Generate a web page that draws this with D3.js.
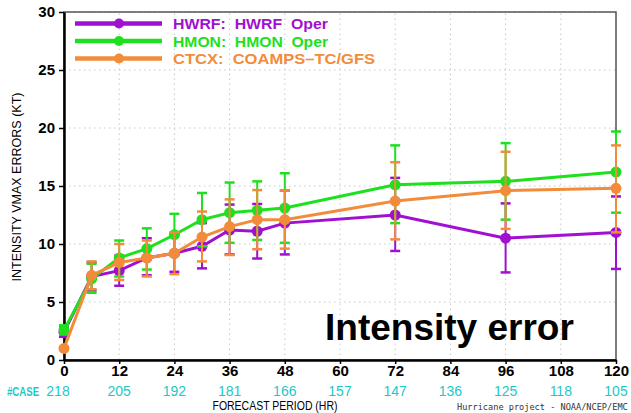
<!DOCTYPE html>
<html>
<head>
<meta charset="utf-8">
<script src="https://cdn.jsdelivr.net/npm/d3@7"></script>
<style>
  body { margin: 0; background: #fff; }
  svg { display: block; }
</style>
</head>
<body>
<div id="vis"></div>
<script>
// Datos
const horas = [0, 6, 12, 18, 24, 30, 36, 42, 48, 72, 96, 120];

const hwrf = [2.4, 7.2, 7.7, 8.8, 9.2, 9.8, 11.2, 11.1, 11.8, 12.5, 10.5, 11.0];
const hwrf_lo = [2.0, 6.0, 6.4, 7.3, 7.6, 7.9, 9.1, 8.75, 9.1, 9.4, 7.55, 7.85];
const hwrf_hi = [2.9, 8.4, 9.0, 10.5, 10.8, 11.8, 13.4, 13.45, 14.6, 15.7, 13.5, 14.1];

const hmon = [2.6, 7.0, 8.8, 9.6, 10.8, 12.1, 12.7, 12.9, 13.1, 15.1, 15.4, 16.2];
const hmon_lo = [2.2, 5.8, 7.2, 7.8, 9.0, 9.8, 10.1, 10.35, 10.1, 11.8, 12.1, 12.7];
const hmon_hi = [3.0, 8.3, 10.3, 11.35, 12.6, 14.4, 15.3, 15.4, 16.1, 18.5, 18.7, 19.7];

const ctcx = [1.0, 7.3, 8.4, 8.8, 9.2, 10.6, 11.5, 12.1, 12.1, 13.7, 14.6, 14.8];
const ctcx_lo = [0.9, 6.1, 6.9, 7.2, 7.4, 8.5, 9.05, 9.55, 9.6, 10.4, 11.3, 11.0];
const ctcx_hi = [1.1, 8.5, 10.0, 10.3, 11.0, 12.8, 13.85, 14.65, 14.6, 17.05, 17.95, 18.5];

const xticks = [0, 12, 24, 36, 48, 60, 72, 84, 96, 108, 120];
const yticks = [0, 5, 10, 15, 20, 25, 30];
const casos = [218, 205, 192, 181, 166, 157, 147, 136, 125, 118, 105];

const nombres = ["HWRF:  HWRF  Oper", "HMON:  HMON  Oper", "CTCX:  COAMPS\u2013TC/GFS"];
const colores = ["#a010d0", "#1ee01e", "#f28c3a"];

const WIDTH = 631;
const HEIGHT = 413;
const margins = [64, 15, 12, 53]; // izquierda, derecha, arriba, abajo

const SVG = d3.select("#vis").append("svg")
  .attr("width", WIDTH)
  .attr("height", HEIGHT);

const x = d3.scaleLinear().domain([0, 120]).range([margins[0], WIDTH - margins[1]]);
const y = d3.scaleLinear().domain([0, 30]).range([HEIGHT - margins[3], margins[2]]);

const series = [
  { name: nombres[0], color: colores[0], v: hwrf, lo: hwrf_lo, hi: hwrf_hi },
  { name: nombres[1], color: colores[1], v: hmon, lo: hmon_lo, hi: hmon_hi },
  { name: nombres[2], color: colores[2], v: ctcx, lo: ctcx_lo, hi: ctcx_hi },
];

// grilla punteada
const grid = SVG.append("g");
grid.selectAll(".gx").data(xticks.slice(1)).join("line")
  .attr("x1", d => x(d)).attr("x2", d => x(d))
  .attr("y1", y(0)).attr("y2", y(30))
  .attr("stroke", "#c8c8c8").attr("stroke-dasharray", "1.5,3.5");
grid.selectAll(".gy").data(yticks.slice(1)).join("line")
  .attr("x1", x(0)).attr("x2", x(120))
  .attr("y1", d => y(d)).attr("y2", d => y(d))
  .attr("stroke", "#c8c8c8").attr("stroke-dasharray", "1.5,3.5");

// marco
SVG.append("rect")
  .attr("x", x(0)).attr("y", y(30))
  .attr("width", x(120) - x(0)).attr("height", y(0) - y(30))
  .attr("fill", "none").attr("stroke", "#555").attr("stroke-width", 1.5);

// ejes
const ejeY = SVG.append("g")
  .attr("transform", `translate(${x(0)},0)`)
  .call(d3.axisLeft(y).tickValues(yticks).tickSize(5).tickSizeOuter(0));
const ejeX = SVG.append("g")
  .attr("transform", `translate(0,${y(0)})`)
  .call(d3.axisBottom(x).tickValues(xticks).tickSize(4).tickSizeOuter(0));

[ejeY, ejeX].forEach(g => {
  g.select(".domain").attr("stroke", "#000").attr("stroke-width", 2.5);
  g.selectAll(".tick line").attr("stroke", "#000").attr("stroke-width", 1.5);
  g.selectAll("text")
    .attr("font-family", "Liberation Sans, Arial, sans-serif")
    .attr("font-weight", "bold")
    .attr("font-size", 15)
    .attr("fill", "#000");
});
ejeY.selectAll("text").attr("dx", -1);
ejeX.selectAll("text").attr("dy", "0.6em");

// barras de error, lineas y puntos
series.forEach(s => {
  const g = SVG.append("g");
  const pts = horas.map((h, i) => ({ h: h, v: s.v[i], lo: s.lo[i], hi: s.hi[i] }));
  g.selectAll(".eb").data(pts).join("line")
    .attr("x1", d => x(d.h)).attr("x2", d => x(d.h))
    .attr("y1", d => y(d.lo)).attr("y2", d => y(d.hi))
    .attr("stroke", s.color).attr("stroke-width", 2);
  ["lo", "hi"].forEach(k => {
    g.selectAll(".cap" + k).data(pts).join("line")
      .attr("x1", d => x(d.h) - 5).attr("x2", d => x(d.h) + 5)
      .attr("y1", d => y(d[k])).attr("y2", d => y(d[k]))
      .attr("stroke", s.color).attr("stroke-width", 2.5);
  });
  g.append("path").datum(pts)
    .attr("d", d3.line().x(d => x(d.h)).y(d => y(d.v)))
    .attr("fill", "none").attr("stroke", s.color).attr("stroke-width", 3);
  g.selectAll("circle").data(pts).join("circle")
    .attr("cx", d => x(d.h)).attr("cy", d => y(d.v)).attr("r", 5.5)
    .attr("fill", s.color);
});

// leyenda
const leg = SVG.append("g");
const legY = [23.5, 41, 58.5];
const legLen = [155, 155, 202];
series.forEach((s, i) => {
  leg.append("line").attr("x1", 75).attr("x2", 162)
    .attr("y1", legY[i]).attr("y2", legY[i])
    .attr("stroke", s.color).attr("stroke-width", 4.5);
  leg.append("circle").attr("cx", 119).attr("cy", legY[i]).attr("r", 5)
    .attr("fill", s.color);
  leg.append("text").attr("x", 173).attr("y", legY[i] + 5.5)
    .attr("font-family", "Liberation Sans, Arial, sans-serif")
    .attr("font-weight", "bold").attr("font-size", 15.5)
    .attr("fill", s.color)
    .attr("textLength", legLen[i]).attr("lengthAdjust", "spacingAndGlyphs")
    .attr("xml:space", "preserve")
    .text(s.name);
});

// numero de casos
const font = "Liberation Sans, Arial, sans-serif";
SVG.append("text").attr("transform", "translate(7,396) scale(0.74,1)")
  .attr("font-family", font).attr("font-size", 13).attr("font-weight", "bold")
  .attr("fill", "#1cc8c8")
  .text("#CASE");
SVG.selectAll(".caso").data(casos).join("text")
  .attr("x", (d, i) => i === 0 ? x(xticks[i]) - 6 : x(xticks[i]))
  .attr("y", 396)
  .attr("text-anchor", "middle")
  .attr("font-family", font).attr("font-size", 14)
  .attr("fill", "#1cc8c8")
  .text(d => d);

// titulos de ejes
SVG.append("text").attr("x", 275).attr("y", 410)
  .attr("text-anchor", "middle")
  .attr("font-family", font).attr("font-size", 13)
  .attr("textLength", 125).attr("lengthAdjust", "spacingAndGlyphs")
  .text("FORECAST PERIOD (HR)");
SVG.append("text")
  .attr("transform", "translate(21,187) rotate(-90)")
  .attr("text-anchor", "middle")
  .attr("font-family", font).attr("font-size", 13)
  .attr("textLength", 189).attr("lengthAdjust", "spacingAndGlyphs")
  .text("INTENSITY VMAX ERRORS (KT)");

SVG.append("text").attr("x", 457).attr("y", 410)
  .attr("font-family", "DejaVu Sans Mono, monospace").attr("font-size", 8.6)
  .attr("fill", "#333")
  .text("Hurricane project - NOAA/NCEP/EMC");

SVG.append("text").attr("x", 325).attr("y", 340)
  .attr("font-family", font).attr("font-weight", "bold").attr("font-size", 37)
  .attr("fill", "#000")
  .text("Intensity error");
</script>
</body>
</html>
